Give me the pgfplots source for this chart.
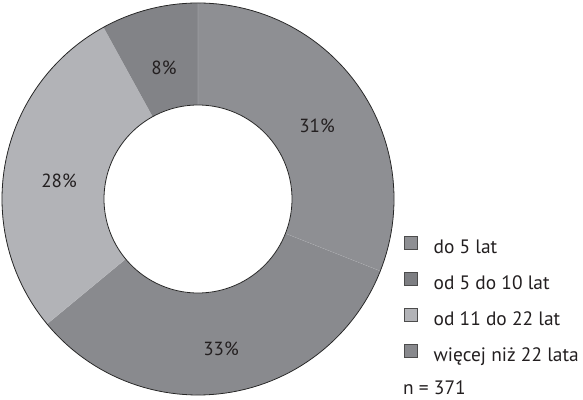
\documentclass[border=0pt]{standalone}
\usepackage{fontspec}
\setmainfont{PT Sans}
\usepackage{pgfplots}
\pgfplotsset{compat=1.18}

\definecolor{txt}{HTML}{231F20}
\definecolor{sliceA}{HTML}{8E8F93}
\definecolor{sliceB}{HTML}{898A8E}
\definecolor{sliceC}{HTML}{B2B3B7}
\definecolor{sliceD}{HTML}{828387}
\definecolor{legA}{HTML}{8E8F93}
\definecolor{legB}{HTML}{7D7E82}
\definecolor{legC}{HTML}{B2B3B7}
\definecolor{legD}{HTML}{88898D}
\definecolor{sep}{HTML}{C9CACD}

% ring geometry (centre)
\def\cx{198}
\def\cy{200}

% one ring segment: #1 = cumulative share before it, #2 = share, #3 = colour
\newcommand{\ringslice}[3]{%
  \addplot[fill=#3, draw=sep, line width=0.35pt, forget plot,
    samples at={0,1,...,40,80,81,...,120}, variable=\t]
    ({\cx + ringrad(\t)*cos(90-3.6*(#1 + #2*ringpos(\t)))},
     {\cy + ringrad(\t)*sin(90-3.6*(#1 + #2*ringpos(\t)))});
}

\begin{document}
\begin{tikzpicture}
\begin{axis}[
  width=583pt, height=399pt, scale only axis,
  xmin=0, xmax=583, ymin=0, ymax=399,
  hide axis, clip=false,
  declare function={
    ringrad(\t)=(\t<=60)*196+(\t>60)*94;
    ringpos(\t)=(\t<=60)*\t/40+(\t>60)*(120-\t)/40;
  },
  legend image code/.code={%
    \draw[#1, draw=black!70, line width=0.5pt] (0pt,0.5pt) rectangle (13pt,13.5pt);},
  legend style={
    at={(axis cs:404,163.5)}, anchor=north west,
    draw=none, fill=none, inner sep=0pt,
    font=\fontsize{19.4}{23}\selectfont, text=txt,
    nodes={inner sep=0pt, text height=13pt, text depth=5pt},
    row sep=13.2pt, column sep=0pt,
  },
  legend cell align=left,
  legend columns=1,
]
% shares in percent, clockwise from the top
\ringslice{0}{31}{sliceA}
\ringslice{31}{33}{sliceB}
\ringslice{64}{28}{sliceC}
\ringslice{92}{8}{sliceD}

% outer rim and central hole
\addplot[draw=black!85, line width=0.8pt, domain=0:360, samples=181, variable=\t, forget plot]
  ({\cx+196*cos(\t)}, {\cy+196*sin(\t)});
\addplot[draw=black!85, fill=white, line width=0.8pt, domain=0:360, samples=181, variable=\t, forget plot]
  ({\cx+94*cos(\t)}, {\cy+94*sin(\t)});

% share labels
\begin{scope}[every node/.style={text=txt, font=\fontsize{19}{22}\selectfont, anchor=base, inner sep=0pt}]
  \node at (axis cs:164,324) {8\%};
  \node at (axis cs:317,266) {31\%};
  \node at (axis cs:59,211) {28\%};
  \node at (axis cs:221,44) {33\%};
\end{scope}

\addlegendimage{fill=legA}\addlegendentry{\hspace{16pt}do 5 lat}
\addlegendimage{fill=legB}\addlegendentry{\hspace{16pt}od 5 do 10 lat}
\addlegendimage{fill=legC}\addlegendentry{\hspace{16pt}od 11 do 22 lat}
\addlegendimage{fill=legD}\addlegendentry{\hspace{16pt}więcej niż 22 lata}

\node[anchor=base west, inner sep=0pt, text=txt, font=\fontsize{19.4}{23}\selectfont]
  at (axis cs:403,4.5) {n = 371};
\end{axis}
\pgfresetboundingbox
\path[use as bounding box] (current axis.south west) rectangle (current axis.north east);
\end{tikzpicture}
\end{document}
